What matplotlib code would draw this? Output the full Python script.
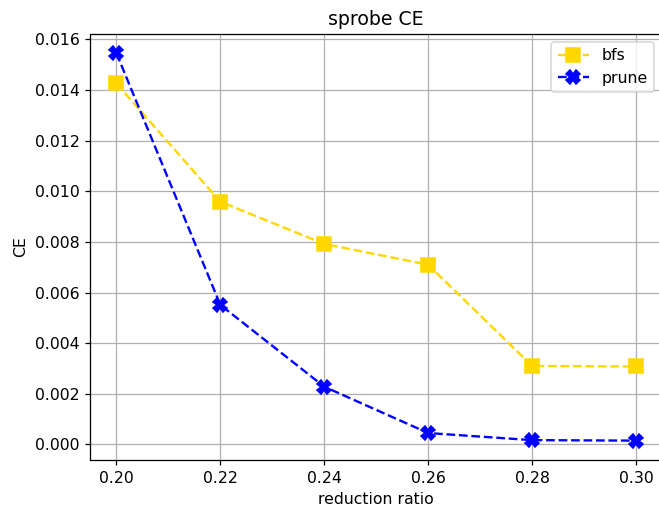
import matplotlib
matplotlib.use("Agg")
from matplotlib import pyplot as plt

ratios = [0.20, 0.22, 0.24, 0.26, 0.28, 0.30]
bfs = [0.01426, 0.00959, 0.00792, 0.00710, 0.00310, 0.00308]
prune = [0.01545, 0.00551, 0.00228, 0.00045, 0.00017, 0.00015]

DPI = 113
fig = plt.figure(figsize=(659 / DPI, 510 / DPI), dpi=DPI)
# the original axes runs a little past the right edge of the picture
ax = fig.add_axes([90.5 / 659, 50 / 510, (662 - 90.5) / 659, 426 / 510])
ax.plot(ratios, bfs, linestyle="--", marker="s", markersize=8.75, color="gold", label="bfs")
ax.plot(ratios, prune, linestyle="--", marker="X", markersize=8.75, color="blue", label="prune")
ax.set_title("sprobe CE")
ax.set_xlabel("reduction ratio")
ax.set_ylabel("CE")
ax.set_xticks(ratios)
ax.grid()
ax.legend()
fig.savefig("out.png", dpi=DPI)
